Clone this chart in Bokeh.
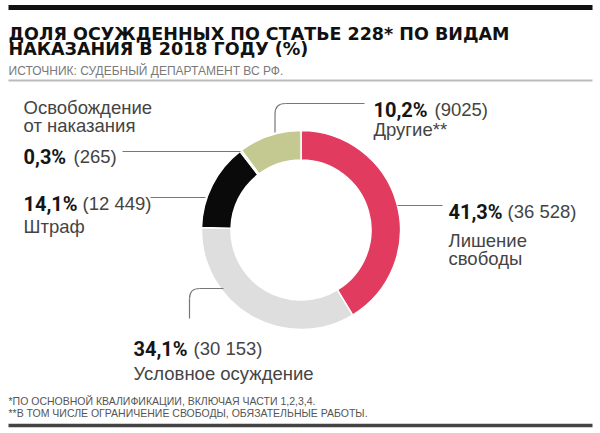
import math
from bokeh.plotting import figure
from bokeh.models import Range1d, ColumnDataSource
from bokeh.core.properties import value
from bokeh.embed import file_html
from bokeh.resources import INLINE

# ---------------- data ----------------
categories = ["Лишение свободы", "Условное осуждение", "Штраф",
              "Освобождение от наказания", "Другие**"]
counts = [36528, 30153, 12449, 265, 9025]
percents = [41.3, 34.1, 14.1, 0.3, 10.2]
count_labels = ["(36 528)", "(30 153)", "(12 449)", "(265)", "(9025)"]
desc_lines = [["Лишение", "свободы"], ["Условное осуждение"], ["Штраф"],
              ["Освобождение", "от наказания"], ["Другие**"]]

title_lines = ["ДОЛЯ ОСУЖДЕННЫХ ПО СТАТЬЕ 228* ПО ВИДАМ",
               "НАКАЗАНИЯ В 2018 ГОДУ (%)"]
source_text = "ИСТОЧНИК: СУДЕБНЫЙ ДЕПАРТАМЕНТ ВС РФ."
footnotes = ["*ПО ОСНОВНОЙ КВАЛИФИКАЦИИ, ВКЛЮЧАЯ ЧАСТИ 1,2,3,4.",
             "**В ТОМ ЧИСЛЕ ОГРАНИЧЕНИЕ СВОБОДЫ, ОБЯЗАТЕЛЬНЫЕ РАБОТЫ."]

# ---------------- style / layout ----------------
colors = ["#E23B60", "#DEDEDE", "#0A0A0A", "#5EC4C4", "#C3C991"]
W, H = 600, 433


def X(px):
    return px


def Y(py):
    return H - py


CX, CY = 300.5, 229.5
R_OUT, R_IN = 99.5, 70

# label layout: (bold x, bold baseline, count x, desc x, [desc baselines])
label_pos = [
    (448, 211, 507, 448, [240, 258]),
    (133, 348, 193, 133, [373]),
    (23, 203, 82, 23, [226]),
    (23, 156, 73, 23, [107, 124.5]),
    (373, 109, 434, 373, [129]),
]

p = figure(width=W, height=H, output_backend="svg", toolbar_location=None,
           x_range=Range1d(0, W), y_range=Range1d(0, H), min_border=0)
p.axis.visible = False
p.grid.visible = False
p.outline_line_color = None
p.background_fill_color = "white"
p.border_fill_color = "white"

# ---------------- donut ----------------
total = sum(counts)
starts, ends = [], []
cum = 0.0
for c in counts:
    c0 = cum / total
    cum += c
    c1 = cum / total
    starts.append(math.pi / 2 - 2 * math.pi * c1)
    ends.append(math.pi / 2 - 2 * math.pi * c0)

src = ColumnDataSource(dict(x=[X(CX)] * len(counts), y=[Y(CY)] * len(counts),
                            start=starts, end=ends, color=colors, cat=categories))
p.annular_wedge(x="x", y="y", inner_radius=R_IN, outer_radius=R_OUT,
                start_angle="start", end_angle="end", color="color",
                line_color="white", line_width=1.5, source=src)

# ---------------- leader lines ----------------
LC, LW = "#777777", 1.2
# 41.3 %
p.line([X(397), X(442)], [Y(205), Y(205)], line_color=LC, line_width=LW)
# 14.1 %
p.line([X(150), X(205)], [Y(197), Y(197)], line_color=LC, line_width=LW)
# 0.3 %
p.line([X(122), X(240)], [Y(151), Y(151)], line_color=LC, line_width=LW)
# 10.2 %
p.line([X(364), X(285)], [Y(103), Y(103)], line_color=LC, line_width=LW)
p.quadratic(x0=[X(285)], y0=[Y(103)], x1=[X(274.5)], y1=[Y(113.5)],
            cx=[X(274.5)], cy=[Y(103)], line_color=LC, line_width=LW)
p.line([X(274.5), X(274.5)], [Y(113.5), Y(132)], line_color=LC, line_width=LW)
# 34.1 %
p.line([X(223), X(199)], [Y(288), Y(288)], line_color=LC, line_width=LW)
p.quadratic(x0=[X(199)], y0=[Y(288)], x1=[X(189)], y1=[Y(298)],
            cx=[X(189)], cy=[Y(288)], line_color=LC, line_width=LW)
p.line([X(189), X(189)], [Y(298), Y(318)], line_color=LC, line_width=LW)

# ---------------- labels ----------------
BOLD_FONT = value("Roboto")
NORM_FONT = value("Liberation Sans")
for i in range(len(categories)):
    bx, by, nx, dx, dys = label_pos[i]
    pct = f"{percents[i]:.1f}".replace(".", ",") + "%"
    p.text(x=[X(bx)], y=[Y(by)], text=[pct], text_font=BOLD_FONT,
           text_font_style="bold", text_font_size="20px", text_color="#151515",
           text_baseline="alphabetic", text_align="left")
    p.text(x=[X(nx)], y=[Y(by)], text=[count_labels[i]], text_font=NORM_FONT,
           text_font_size="18.5px", text_color="#444444",
           text_baseline="alphabetic", text_align="left")
    for line, dy in zip(desc_lines[i], dys):
        p.text(x=[X(dx)], y=[Y(dy)], text=[line], text_font=NORM_FONT,
               text_font_size="18.5px", text_color="#444444",
               text_baseline="alphabetic", text_align="left")

# ---------------- header / footer ----------------
p.line([X(8), X(592)], [Y(7), Y(7)], line_color="#111111", line_width=5)
for line, by in zip(title_lines, [33.5, 48.5]):
    p.text(x=[X(8)], y=[Y(by)], text=[line], text_font=value("DejaVu Sans"),
           text_font_style="bold", text_font_size="17.5px", text_color="#111111",
           text_baseline="alphabetic", text_align="left")
p.text(x=[X(8)], y=[Y(70)], text=[source_text], text_font=NORM_FONT,
       text_font_size="12px", text_color="#7a7a7a",
       text_baseline="alphabetic", text_align="left")
p.line([X(8), X(592)], [Y(80), Y(80)], line_color="#bbbbbb", line_width=2)

for line, by in zip(footnotes, [400, 412]):
    p.text(x=[X(8)], y=[Y(by)], text=[line], text_font=NORM_FONT,
           text_font_size="10.5px", text_color="#555555",
           text_baseline="alphabetic", text_align="left")
p.line([X(8), X(592)], [Y(425), Y(425)], line_color="#444444", line_width=3.5)

open("out.html", "w").write(file_html(p, INLINE))
